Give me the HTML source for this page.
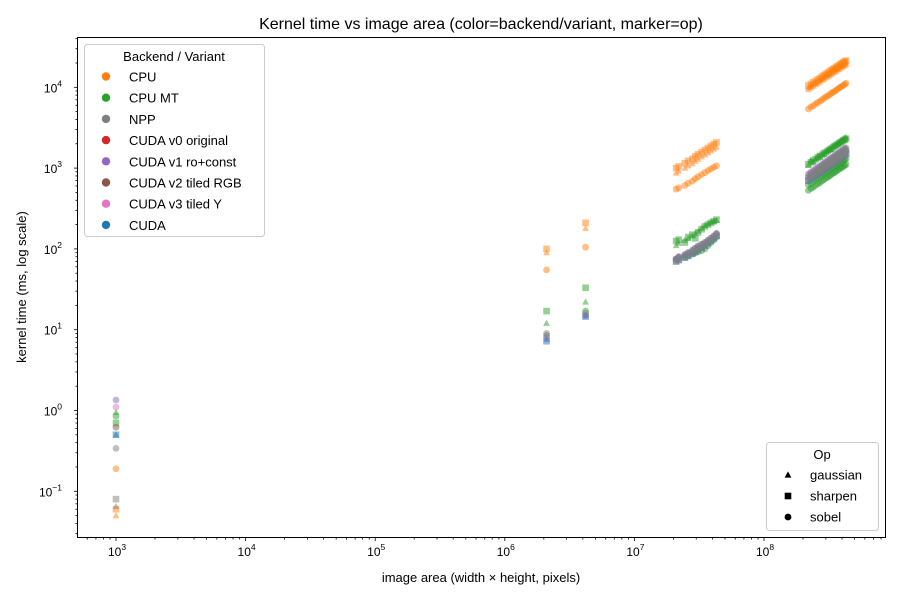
<!DOCTYPE html>
<html><head><meta charset="utf-8"><style>
body{margin:0;background:#fff;}
svg text{font-family:"Liberation Sans","DejaVu Sans",sans-serif;fill:#000;}
</style></head><body>
<svg id="c" width="900" height="600" xmlns="http://www.w3.org/2000/svg">
<rect width="900" height="600" fill="#fff"/>
<text x="481" y="29" font-size="16" text-anchor="middle">Kernel time vs image area (color=backend/variant, marker=op)</text>
<g id="marks"></g>
<rect x="77.5" y="37.5" width="808" height="500" fill="none" stroke="#000" stroke-width="1"/>
<g id="axes"></g>
<text x="481" y="582" font-size="13" text-anchor="middle">image area (width × height, pixels)</text>
<text x="26" y="287" font-size="13" text-anchor="middle" transform="rotate(-90 26 287)">kernel time (ms, log scale)</text>
<g>
<rect x="84.5" y="44.5" width="180" height="192" rx="3" fill="#fff" fill-opacity="0.8" stroke="#ccc"/>
<text x="174" y="61" font-size="13" text-anchor="middle">Backend / Variant</text>
<g id="leg1"></g>
</g>
<g>
<rect x="766.5" y="442.5" width="112" height="88" rx="3" fill="#fff" fill-opacity="0.8" stroke="#ccc"/>
<text x="822" y="459" font-size="13" text-anchor="middle">Op</text>
<g id="leg2"></g>
</g>
</svg>
<script>
const backends=["CPU","CPU MT","NPP","CUDA v0 original","CUDA v1 ro+const","CUDA v2 tiled RGB","CUDA v3 tiled Y","CUDA"];
const colors=["#ff7f0e","#2ca02c","#7f7f7f","#d62728","#9467bd","#8c564b","#e377c2","#1f77b4"];
const ops=["gaussian","sharpen","sobel"];
const xTicks=[1e3,1e4,1e5,1e6,1e7,1e8];
const xTickLabels=["3","4","5","6","7","8"];
const yTicks=[0.1,1,10,100,1000,10000];
const yTickLabels=["−1","0","1","2","3","4"];
const A1=[1000];
const A2=[2.1e6];
const A3=[4.2e6];
const A4=[2.1e7,2.2e7,2.45e7,2.6e7,2.8e7,2.95e7,3.1e7,3.3e7,3.5e7,3.7e7,3.9e7,4.1e7,4.3e7];
const A5=[2.2e8,2.3e8,2.4e8,2.5e8,2.6e8,2.7e8,2.8e8,2.9e8,3.0e8,3.1e8,3.2e8,3.3e8,3.4e8,3.5e8,3.6e8,3.7e8,3.8e8,3.9e8,4.0e8,4.1e8,4.2e8,4.3e8];
const cpuSharpen4=[1000,1050,1150,1230,1300,1400,1480,1580,1680,1780,1880,1980,2080];
const cpuGauss4=[870,920,1000,1070,1130,1220,1290,1380,1460,1550,1640,1720,1810];
const cpuSobel4=[550,570,610,650,690,740,780,830,880,930,980,1020,1070];
const mtSharpen4=[125,130,120,140,150,135,160,175,190,200,210,220,230];
const mtGauss4=[110,118,128,135,145,155,165,180,195,205,215,220,225];
const mtSobel4=[75,78,80,83,86,89,92,95,100,110,120,130,140];
const gpu4=[70,73,78,82,88,93,98,104,110,118,126,135,145];
const gpuB4=[75,80,85,90,96,102,108,114,120,128,136,145,155];
const cpuSharpen5=[10500,11000,11500,12000,12500,13000,13600,14100,14600,15100,15700,16200,16700,17200,17800,18300,18800,19300,19900,20400,20900,21400];
const cpuGauss5=[10000,10500,11000,11500,12000,12500,13000,13500,14000,14500,15000,15500,16000,16500,17000,17500,18000,18500,19000,19500,20000,20500];
const cpuGauss5b=[9400,9900,10300,10800,11200,11700,12200,12600,13100,13600,14000,14500,15000,15400,15900,16400,16800,17300,17800,18200,18700,19200];
const cpuSobel5=[5400,5700,5900,6200,6500,6700,7000,7300,7600,7800,8100,8400,8700,8900,9200,9500,9800,10100,10300,10600,10900,11200];
const mtSharpen5=[1120,1180,1230,1290,1350,1400,1460,1520,1570,1630,1690,1740,1800,1860,1910,1970,2030,2080,2140,2200,2250,2310];
const mtGauss5=[1080,1250,1180,1300,1420,1350,1500,1480,1600,1650,1720,1700,1850,1900,1950,2000,2080,2150,2200,2250,2350,2400];
const mtSobel5=[530,560,580,610,640,660,690,720,750,770,800,830,860,880,910,940,970,1000,1020,1050,1080,1110];
const mtSobel5b=[620,650,690,720,750,780,810,850,880,910,950,980,1010,1040,1080,1110,1140,1170,1210,1240,1270,1300];
const gpu5=[700,740,770,810,850,880,920,960,1000,1040,1080,1110,1150,1190,1230,1270,1310,1350,1390,1430,1470,1510];
const gpuB5=[780,820,860,900,940,980,1020,1060,1100,1150,1190,1230,1270,1320,1360,1400,1450,1490,1530,1580,1620,1670];
const gpuC5=[850,890,930,980,1020,1060,1110,1150,1200,1240,1290,1330,1380,1420,1470,1510,1560,1600,1650,1690,1740,1780];
const series=[
[0,0,A1,[0.05]],[0,1,A1,[0.06]],[0,2,A1,[0.19]],
[1,0,A1,[0.95]],[1,1,A1,[0.7]],[1,2,A1,[0.85]],
[2,0,A1,[0.065]],[2,1,A1,[0.08]],[2,2,A1,[0.34]],
[4,2,A1,[1.35]],[6,2,A1,[1.1]],[5,2,A1,[0.62]],[7,1,A1,[0.5]],[7,0,A1,[0.5]],
[0,1,A2,[100]],[0,0,A2,[90]],[0,2,A2,[55]],[1,1,A2,[17]],[1,0,A2,[12]],[1,2,A2,[8.5]],
[7,1,A2,[7.2]],[7,0,A2,[7.6]],[2,2,A2,[9]],[4,2,A2,[8]],
[0,1,A3,[210]],[0,0,A3,[180]],[0,2,A3,[105]],[1,1,A3,[33]],[1,0,A3,[22]],[1,2,A3,[17]],
[7,1,A3,[14.5]],[7,0,A3,[15]],[2,2,A3,[16]],[4,2,A3,[15]],
[0,1,A4,cpuSharpen4],[0,0,A4,cpuGauss4],[0,2,A4,cpuSobel4],
[1,1,A4,mtSharpen4],[1,0,A4,mtGauss4],[1,2,A4,mtSobel4],
[7,1,A4,gpu4],[7,0,A4,gpuB4],[4,2,A4,gpuB4],[2,2,A4,gpuB4],[2,1,A4,gpu4],
[0,1,A5,cpuSharpen5],[0,0,A5,cpuGauss5],[0,0,A5,cpuGauss5b],[0,2,A5,cpuSobel5],
[1,1,A5,mtSharpen5],[1,0,A5,mtGauss5],[1,2,A5,mtSobel5],[1,2,A5,mtSobel5b],
[7,1,A5,gpu5],[7,0,A5,gpuB5],[4,2,A5,gpuC5],[2,2,A5,gpuB5],[2,1,A5,gpu5],[2,0,A5,gpuC5]
];
const NS="http://www.w3.org/2000/svg";
function xS(a){return 116+(Math.log10(a)-3)*129.6;}
function yS(t){return 410.5-Math.log10(t)*80.8;}
function marker(op,x,y,fill,op_a){
  let el;
  if(op===0){el=document.createElementNS(NS,"polygon");el.setAttribute("points",`${x},${y-3.6} ${x+3.4},${y+2.6} ${x-3.4},${y+2.6}`);}
  else if(op===1){el=document.createElementNS(NS,"rect");el.setAttribute("x",x-3.3);el.setAttribute("y",y-3.3);el.setAttribute("width",6.6);el.setAttribute("height",6.6);}
  else{el=document.createElementNS(NS,"circle");el.setAttribute("cx",x);el.setAttribute("cy",y);el.setAttribute("r",3.4);}
  el.setAttribute("fill",fill);el.setAttribute("fill-opacity",op_a);
  return el;
}
const g=document.getElementById("marks");
series.forEach(s=>{
  const [b,o,A,T]=s;
  T.forEach((t,i)=>{
    const m=marker(o,xS(A[i]),yS(t),colors[b],0.5);
    
    
    g.appendChild(m);
  });
});
const ax=document.getElementById("axes");
function line(x1,y1,x2,y2){const l=document.createElementNS(NS,"line");l.setAttribute("x1",x1);l.setAttribute("y1",y1);l.setAttribute("x2",x2);l.setAttribute("y2",y2);l.setAttribute("stroke","#000");l.setAttribute("stroke-width","0.8");ax.appendChild(l);return l;}
function label(x,y,base,exp,anchor){
  const t=document.createElementNS(NS,"text");t.setAttribute("x",x);t.setAttribute("y",y);t.setAttribute("font-size","12");t.setAttribute("text-anchor",anchor);
  t.innerHTML=base+'<tspan font-size="8.5" dy="-6">'+exp+'</tspan>';
  
  
  ax.appendChild(t);
}
xTicks.forEach((v,i)=>{const x=xS(v);line(x,537.5,x,541);label(x+1,556,"10",xTickLabels[i],"middle");
  for(let k=2;k<10;k++){const xm=xS(v*k);if(xm<885)line(xm,537.5,xm,539.5);}});
for(let k=6;k<10;k++)line(xS(100*k),537.5,xS(100*k),539.5);
yTicks.forEach((v,i)=>{const y=yS(v);line(77.5,y,74,y);label(62,y+5,"10",yTickLabels[i],"end");
  for(let k=2;k<10;k++){const ym=yS(v*k);if(ym>37)line(77.5,ym,75.5,ym);}});
for(let k=3;k<10;k++)line(77.5,yS(0.01*k),75.5,yS(0.01*k));
const l1=document.getElementById("leg1");
backends.forEach((b,i)=>{
  const y=77+i*21.2;
  const c=document.createElementNS(NS,"circle");c.setAttribute("cx",106);c.setAttribute("cy",y-0.5);c.setAttribute("r",4.2);c.setAttribute("fill",colors[i]);
  
  
  l1.appendChild(c);
  const t=document.createElementNS(NS,"text");t.setAttribute("x",129);t.setAttribute("y",y+4.5);t.setAttribute("font-size","13");t.textContent=b;
  
  
  l1.appendChild(t);
});
const l2=document.getElementById("leg2");
ops.forEach((o,i)=>{
  const y=475+i*21;
  const m=marker(i,788,y,"#000",1);
  
  
  l2.appendChild(m);
  const t=document.createElementNS(NS,"text");t.setAttribute("x",810);t.setAttribute("y",y+4.5);t.setAttribute("font-size","13");t.textContent=o;
  
  
  l2.appendChild(t);
});
</script>
</body></html>
